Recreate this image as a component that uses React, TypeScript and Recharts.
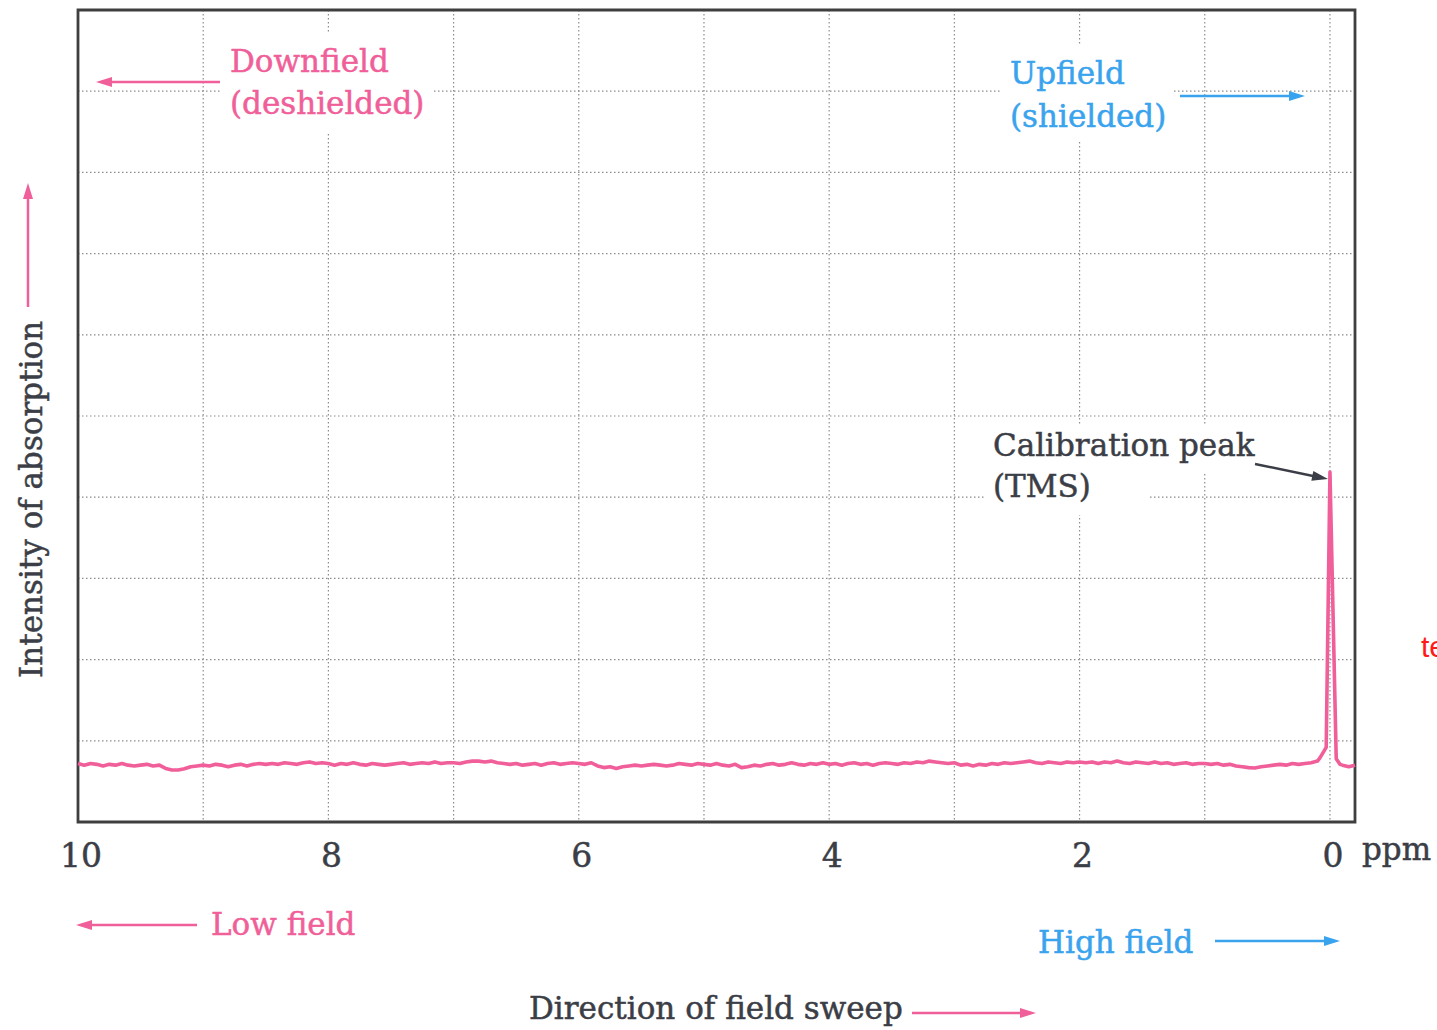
import React from "react";
import { LineChart, Line, XAxis, YAxis, CartesianGrid, ReferenceArea } from "recharts";

// chemical shift (ppm), read left to right as drawn (10 -> -0.2)
const PPM = [
  10.0, 9.95, 9.9, 9.85, 9.8, 9.75, 9.7, 9.65, 9.6, 9.55,
  9.5, 9.45, 9.4, 9.35, 9.3, 9.25, 9.2, 9.15, 9.1, 9.05,
  9.0, 8.95, 8.9, 8.85, 8.8, 8.75, 8.7, 8.65, 8.6, 8.55,
  8.5, 8.45, 8.4, 8.35, 8.3, 8.25, 8.2, 8.15, 8.1, 8.05,
  8.0, 7.95, 7.9, 7.85, 7.8, 7.75, 7.7, 7.65, 7.6, 7.55,
  7.5, 7.45, 7.4, 7.35, 7.3, 7.25, 7.2, 7.15, 7.1, 7.05,
  7.0, 6.95, 6.9, 6.85, 6.8, 6.75, 6.7, 6.65, 6.6, 6.55,
  6.5, 6.45, 6.4, 6.35, 6.3, 6.25, 6.2, 6.15, 6.1, 6.05,
  6.0, 5.95, 5.9, 5.85, 5.8, 5.75, 5.7, 5.65, 5.6, 5.55,
  5.5, 5.45, 5.4, 5.35, 5.3, 5.25, 5.2, 5.15, 5.1, 5.05,
  5.0, 4.95, 4.9, 4.85, 4.8, 4.75, 4.7, 4.65, 4.6, 4.55,
  4.5, 4.45, 4.4, 4.35, 4.3, 4.25, 4.2, 4.15, 4.1, 4.05,
  4.0, 3.95, 3.9, 3.85, 3.8, 3.75, 3.7, 3.65, 3.6, 3.55,
  3.5, 3.45, 3.4, 3.35, 3.3, 3.25, 3.2, 3.15, 3.1, 3.05,
  3.0, 2.95, 2.9, 2.85, 2.8, 2.75, 2.7, 2.65, 2.6, 2.55,
  2.5, 2.45, 2.4, 2.35, 2.3, 2.25, 2.2, 2.15, 2.1, 2.05,
  2.0, 1.95, 1.9, 1.85, 1.8, 1.75, 1.7, 1.65, 1.6, 1.55,
  1.5, 1.45, 1.4, 1.35, 1.3, 1.25, 1.2, 1.15, 1.1, 1.05,
  1.0, 0.95, 0.9, 0.85, 0.8, 0.75, 0.7, 0.65, 0.6, 0.55,
  0.5, 0.45, 0.4, 0.35, 0.3, 0.25, 0.2, 0.15, 0.1,
  0.08, 0.03, 0.0, -0.05, -0.08, -0.1, -0.15, -0.2,
];

// absorption intensity (arbitrary units, grid = 1 unit)
const INTENSITY = [
  0.72, 0.7, 0.72, 0.71, 0.69, 0.71, 0.7, 0.72, 0.7, 0.69,
  0.7, 0.71, 0.69, 0.7, 0.66, 0.64, 0.64, 0.655, 0.68, 0.69,
  0.7, 0.69, 0.71, 0.7, 0.68, 0.7, 0.71, 0.69, 0.71, 0.72,
  0.71, 0.72, 0.71, 0.73, 0.72, 0.71, 0.73, 0.74, 0.72, 0.73,
  0.72, 0.7, 0.72, 0.71, 0.73, 0.71, 0.7, 0.72, 0.71, 0.7,
  0.71, 0.72, 0.73, 0.71, 0.72, 0.73, 0.72, 0.74, 0.72, 0.73,
  0.73, 0.72, 0.74, 0.75, 0.75, 0.74, 0.75, 0.73, 0.72, 0.71,
  0.72, 0.7, 0.71, 0.72, 0.7, 0.72, 0.73, 0.71, 0.72, 0.73,
  0.72, 0.71, 0.73, 0.69, 0.67, 0.68, 0.66, 0.68, 0.69, 0.7,
  0.69, 0.7, 0.71, 0.7, 0.69, 0.7, 0.72, 0.71, 0.7, 0.72,
  0.71, 0.7, 0.72, 0.7, 0.69, 0.71, 0.67, 0.68, 0.7, 0.69,
  0.71, 0.72, 0.7, 0.71, 0.73, 0.71, 0.7, 0.72, 0.71, 0.73,
  0.71, 0.72, 0.7, 0.72, 0.73, 0.71, 0.72, 0.7, 0.72, 0.73,
  0.72, 0.71, 0.73, 0.72, 0.74, 0.73, 0.75, 0.74, 0.73, 0.72,
  0.73, 0.7, 0.71, 0.69, 0.71, 0.7, 0.72, 0.71, 0.73, 0.72,
  0.73, 0.74, 0.75, 0.73, 0.72, 0.74, 0.73, 0.72, 0.74, 0.73,
  0.74, 0.73, 0.74, 0.72, 0.74, 0.73, 0.75, 0.73, 0.72, 0.74,
  0.73, 0.72, 0.74, 0.72, 0.73, 0.71, 0.72, 0.73, 0.71, 0.72,
  0.72, 0.71, 0.72, 0.7, 0.71, 0.69, 0.68, 0.67, 0.665, 0.68,
  0.69, 0.7, 0.71, 0.7, 0.72, 0.71, 0.72, 0.73, 0.75,
  0.79, 0.92, 4.31, 0.78, 0.71, 0.7, 0.68, 0.7,
];

const X_TICKS = [10, 9, 8, 7, 6, 5, 4, 3, 2, 1, 0];
const X_LABELS = ["10", "", "8", "", "6", "", "4", "", "2", "", "0"];
const Y_TICKS = [0, 1, 2, 3, 4, 5, 6, 7, 8, 9, 10];

const data = PPM.map((ppm, i) => ({ ppm, v: INTENSITY[i] }));

const PINK = "#f05f99";
const BLUE = "#3aa3ee";
const DARK = "#3b3e46";
const FONT = "'DejaVu Serif', serif";

function PpmTick(props: any) {
  const { x, y, payload } = props;
  const label = X_LABELS[X_TICKS.indexOf(payload.value)];
  if (!label) return <g />;
  return (
    <text
      x={x + 3}
      y={y + 45}
      textAnchor="middle"
      fontFamily={FONT}
      fontSize={33}
      fill={DARK}
      stroke={DARK}
      strokeWidth={0.5}
    >
      {label}
    </text>
  );
}

function Arrow({ x1, y1, x2, y2, color }: { x1: number; y1: number; x2: number; y2: number; color: string }) {
  const dx = x2 - x1;
  const dy = y2 - y1;
  const len = Math.hypot(dx, dy);
  const ux = dx / len;
  const uy = dy / len;
  const hl = 16;
  const hw = 5;
  const bx = x2 - ux * hl;
  const by = y2 - uy * hl;
  const pts = `${x2},${y2} ${bx - uy * hw},${by + ux * hw} ${bx + uy * hw},${by - ux * hw}`;
  return (
    <g>
      <line x1={x1} y1={y1} x2={bx + ux * 2} y2={by + uy * 2} stroke={color} strokeWidth={2.5} />
      <polygon points={pts} fill={color} />
    </g>
  );
}

function Label({ x, y, color, children, transform }: any) {
  return (
    <text x={x} y={y} fontSize={31} fill={color} stroke={color} strokeWidth={0.5} transform={transform}>
      {children}
    </text>
  );
}

export default function App() {
  return (
    <div style={{ position: "absolute", left: 0, top: 0, width: 1437, height: 1030, background: "#fff" }}>
      <LineChart width={1437} height={1030} data={data} margin={{ top: 10, right: 82, left: 78, bottom: 0 }}>
        <CartesianGrid stroke="#8c8c8c" strokeDasharray="1.5 2.5" strokeWidth={1.2} />
        <XAxis
          dataKey="ppm"
          type="number"
          domain={[-0.2, 10]}
          reversed
          ticks={X_TICKS}
          interval={0}
          height={208}
          axisLine={false}
          tickLine={false}
          tickSize={0}
          tickMargin={0}
          tick={<PpmTick />}
        />
        <YAxis type="number" domain={[0, 10]} ticks={Y_TICKS} hide />
        <ReferenceArea
          x1={10}
          x2={-0.2}
          y1={0}
          y2={10}
          fill="none"
          stroke="#3f3f3f"
          strokeWidth={2.8}
          ifOverflow="visible"
        />
        <Line
          dataKey="v"
          type="linear"
          stroke={PINK}
          strokeWidth={3.6}
          strokeLinejoin="round"
          dot={false}
          isAnimationActive={false}
        />
      </LineChart>
      <svg
        width={1437}
        height={1030}
        style={{ position: "absolute", left: 0, top: 0, pointerEvents: "none" }}
        fontFamily={FONT}
      >
        <rect x={222} y={33} width={210} height={100} fill="#fff" />
        <rect x={1000} y={45} width={172} height={95} fill="#fff" />
        <rect x={985} y={425} width={268} height={48} fill="#fff" />
        <rect x={985} y={470} width={165} height={45} fill="#fff" />

        <Label x={230} y={72} color={PINK}>Downfield</Label>
        <Label x={230} y={114} color={PINK}>(deshielded)</Label>
        <Arrow x1={220} y1={82} x2={96} y2={82} color={PINK} />

        <Label x={1010} y={84} color={BLUE}>Upfield</Label>
        <Label x={1010} y={127} color={BLUE}>(shielded)</Label>
        <Arrow x1={1180} y1={96} x2={1305} y2={96} color={BLUE} />

        <Label x={993} y={456} color={DARK}>Calibration peak</Label>
        <Label x={993} y={497} color={DARK}>(TMS)</Label>
        <Arrow x1={1255} y1={464} x2={1328} y2={479} color={DARK} />

        <Label x={1362} y={860} color={DARK}>ppm</Label>

        <Label x={211} y={935} color={PINK}>Low field</Label>
        <Arrow x1={197} y1={925} x2={76} y2={925} color={PINK} />

        <Label x={1038} y={953} color={BLUE}>High field</Label>
        <Arrow x1={1215} y1={941} x2={1340} y2={941} color={BLUE} />

        <Label x={529} y={1019} color={DARK}>Direction of field sweep</Label>
        <Arrow x1={912} y1={1013} x2={1036} y2={1013} color={PINK} />

        <Label x={42} y={678} color={DARK} transform="rotate(-90 42 678)">
          Intensity of absorption
        </Label>
        <Arrow x1={28} y1={307} x2={28} y2={183} color={PINK} />

        <text x={1421} y={657} fontSize={30} fill="#ff1a1a" fontFamily="'Liberation Sans', sans-serif">te</text>
      </svg>
    </div>
  );
}
